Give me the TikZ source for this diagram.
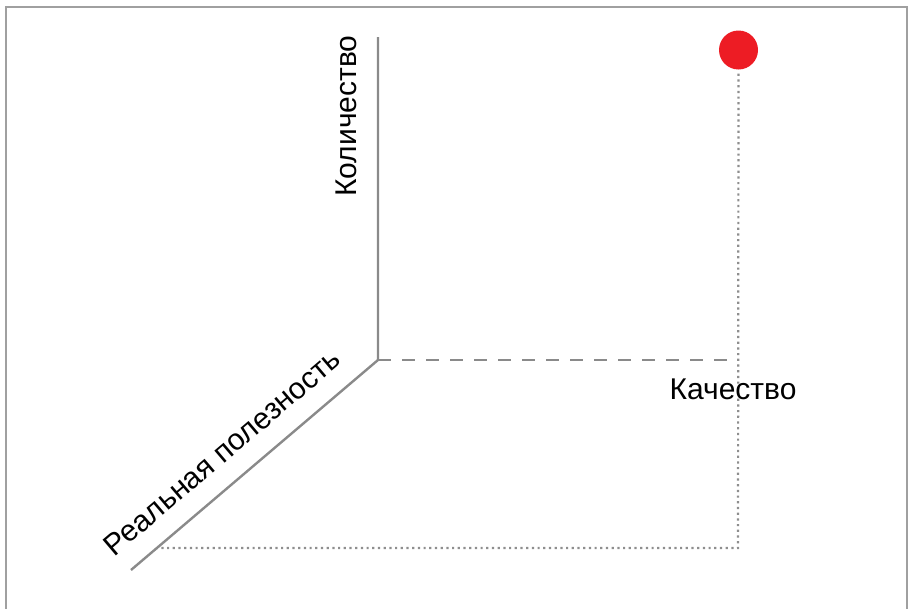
\documentclass[tikz,border=0pt]{standalone}
\usepackage{fontspec}
\setmainfont{Liberation Sans}
\definecolor{axisgray}{HTML}{8A8A8A}
\definecolor{dotgray}{HTML}{8E8E8E}
\definecolor{framegray}{HTML}{A0A0A0}
\definecolor{dotred}{HTML}{ED1C24}
\begin{document}
\begin{tikzpicture}[x=1pt,y=-1pt,
  axisline/.style={draw=axisgray,line width=2.4pt},
  dashline/.style={draw=axisgray,line width=2.4pt,dash pattern=on 13pt off 11pt},
  dotline/.style={draw=dotgray,line width=2.2pt,dash pattern=on 2.2pt off 3.5pt},
  lbl/.style={font=\fontsize{30}{35}\selectfont,inner sep=0pt}]
\useasboundingbox (0,0) rectangle (912,608);
\draw[framegray,line width=1.6pt] (6,620) -- (6,7) -- (907,7) -- (907,620);
\coordinate (O) at (378,360);
\coordinate (T) at (378,37);
\coordinate (D) at (131,570);
\coordinate (Q) at (738,360);
\coordinate (B) at (157,548);
\coordinate (C) at (738,548);
\node[circle,fill=dotred,minimum size=39pt,inner sep=0pt] (P) at (738.5,50) {};
\draw[dotline] (P.south) ++(0,4) -- (C) -- (B);
\draw[axisline] (T) -- (O) -- (D);
\draw[dashline] (O) -- (Q);
\node[lbl,rotate=90] (lq) at (346,116) {Количество};
\node[lbl] (lk) at (733,389) {Качество};
\node[lbl,rotate=40.4] (lr) at (222,452) {Реальная полезность};
\end{tikzpicture}
\end{document}
